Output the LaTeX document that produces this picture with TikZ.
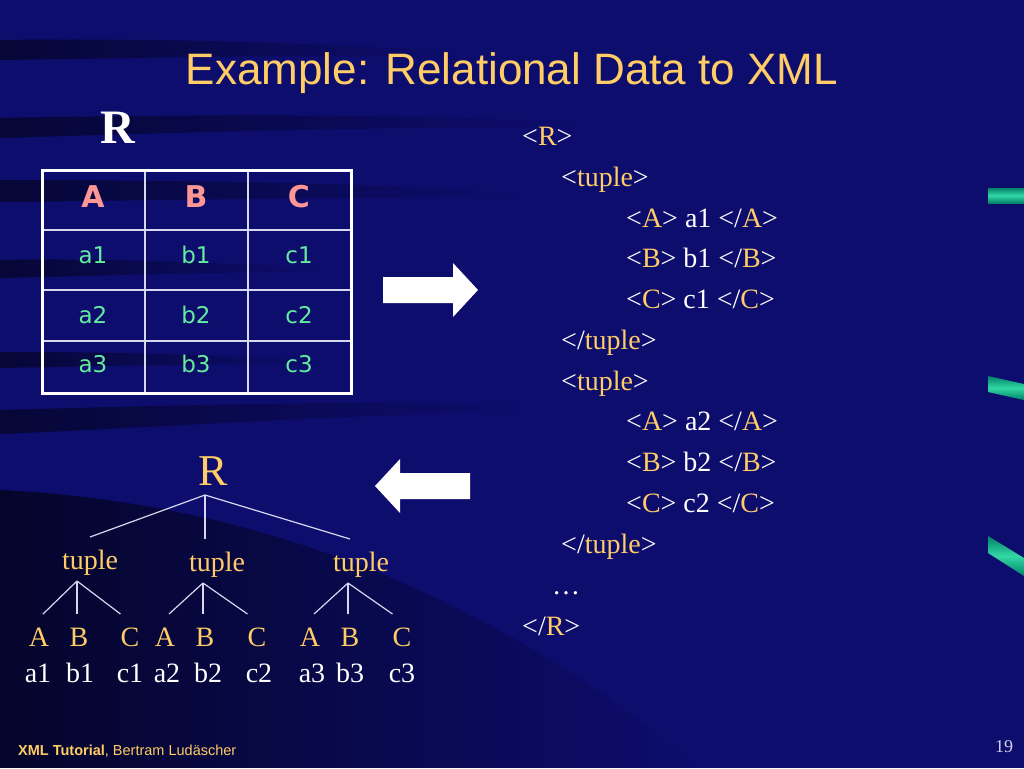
\documentclass[tikz,border=0pt]{standalone}
\usepackage{fontspec}
\setmainfont{Liberation Serif}
\newfontfamily\tahoma{DejaVu Sans}
\newfontfamily\arialfam{Liberation Sans}
\usepackage{xcolor}
\usepackage{tikz}
\usetikzlibrary{fadings}
\definecolor{slidebg}{RGB}{13,13,110}
\definecolor{gold}{RGB}{255,204,102}
\definecolor{pinkhdr}{RGB}{255,150,150}
\definecolor{mint}{RGB}{100,235,160}
\definecolor{rulecol}{RGB}{215,215,240}
\definecolor{tealdark}{RGB}{0,130,105}
\definecolor{teallight}{RGB}{50,215,165}
\definecolor{pagecol}{RGB}{210,210,235}
\newcommand{\otag}[1]{<\textcolor{gold}{#1}>}
\newcommand{\ctag}[1]{</\textcolor{gold}{#1}>}
\tikzset{streak/.style={fill=black, opacity=0.5, path fading=east}}
\tikzset{hdr/.style={font=\tahoma\bfseries\fontsize{30}{30}\selectfont, text=pinkhdr}}
\tikzset{cell/.style={font=\tahoma\fontsize{23}{23}\selectfont, text=mint}}
\tikzset{xml/.style={anchor=base west, inner sep=0pt, text=white, font=\fontsize{28}{28}\selectfont}}
\tikzset{tnode/.style={anchor=base, inner sep=0pt, text height=19pt, text depth=6pt, outer ysep=13pt, text=gold, font=\fontsize{28}{28}\selectfont}}
\tikzset{root/.style={tnode, outer ysep=4pt, font=\fontsize{44}{44}\selectfont}}
\tikzset{val/.style={anchor=base, inner sep=0pt, text=white, font=\fontsize{28}{28}\selectfont}}
\tikzset{branch/.style={draw=rulecol, line width=1.2pt}}

\begin{document}
\begin{tikzpicture}[x=1pt,y=-1pt]
\fill[slidebg] (0,0) rectangle (1024,768);
\useasboundingbox (0,0) rectangle (1024,768);
% dark ribbons of the slide
\fill[streak] (0,40) .. controls (150,38) and (300,42) .. (460,52) -- (460,58) .. controls (300,54) and (150,58) .. (0,60) -- cycle;
\fill[streak] (0,118) .. controls (200,114) and (400,114) .. (580,122) -- (580,128) .. controls (400,126) and (200,132) .. (0,138) -- cycle;
\fill[streak] (0,180) .. controls (200,180) and (380,184) .. (520,192) -- (520,198) .. controls (380,196) and (200,200) .. (0,202) -- cycle;
\fill[streak] (0,260) .. controls (100,258) and (200,262) .. (320,268) -- (320,272) .. controls (200,272) and (100,276) .. (0,278) -- cycle;
\fill[streak] (0,352) .. controls (100,352) and (200,354) .. (320,360) -- (320,364) .. controls (200,364) and (100,366) .. (0,368) -- cycle;
\fill[streak] (0,410) .. controls (150,406) and (350,400) .. (520,404) -- (520,412) .. controls (350,414) and (150,428) .. (0,434) -- cycle;
\fill[streak, opacity=0.6] (0,490) .. controls (200,500) and (450,560) .. (700,768) -- (0,768) -- cycle;
%\draw[-,color=white,dashed] (0,0) grid[step=100] (1024,768);
\shade[top color=tealdark, bottom color=tealdark, middle color=teallight] (988,188) rectangle (1024,203);
\shade[top color=tealdark, bottom color=tealdark, middle color=teallight] (988,376) -- (1024,384) -- (1024,400) -- (988,392) -- cycle;
\shade[top color=tealdark, bottom color=tealdark, middle color=teallight] (988,536) -- (1024,558) -- (1024,576) -- (988,553) -- cycle;
% title
\node[font=\arialfam\fontsize{44}{44}\selectfont, text=gold, anchor=base] (title) at (512,84) {Example: Relational Data to XML};
% relation R
\node[font=\bfseries\fontsize{48}{48}\selectfont, text=white, anchor=base] (relname) at (118,143) {R};
\draw[rulecol, line width=2pt] (145,170) -- (145,393) (248,170) -- (248,393);
\draw[rulecol, line width=2pt] (42,230) -- (351,230) (42,290) -- (351,290) (42,341) -- (351,341);
\draw[white, line width=3pt] (42,170) rectangle (351,393);
\node[hdr] (hA) at (93,197) {A};
\node[hdr] (hB) at (196,197) {B};
\node[hdr] (hC) at (299,197) {C};
\node[cell] (ra1) at (93,255) {a1};
\node[cell] (rb1) at (196,255) {b1};
\node[cell] (rc1) at (299,255) {c1};
\node[cell] (ra2) at (93,315) {a2};
\node[cell] (rb2) at (196,315) {b2};
\node[cell] (rc2) at (299,315) {c2};
\node[cell] (ra3) at (93,364) {a3};
\node[cell] (rb3) at (196,364) {b3};
\node[cell] (rc3) at (299,364) {c3};
% block arrows
\fill[white] (383,277) -- (453,277) -- (453,263) -- (478,290) -- (453,317) -- (453,303) -- (383,303) -- cycle;
\fill[white] (470,473) -- (400,473) -- (400,459) -- (375,486) -- (400,513) -- (400,499) -- (470,499) -- cycle;
% XML document
\node[xml] (x1) at (522,145) {\otag{R}};
\node[xml] (x2) at (561,186) {\otag{tuple}};
\node[xml] (x3) at (626,227) {\otag{A} a1 \ctag{A}};
\node[xml] (x4) at (626,267) {\otag{B} b1 \ctag{B}};
\node[xml] (x5) at (626,308) {\otag{C} c1 \ctag{C}};
\node[xml] (x6) at (561,349) {\ctag{tuple}};
\node[xml] (x7) at (561,390) {\otag{tuple}};
\node[xml] (x8) at (626,430) {\otag{A} a2 \ctag{A}};
\node[xml] (x9) at (626,471) {\otag{B} b2 \ctag{B}};
\node[xml] (x10) at (626,512) {\otag{C} c2 \ctag{C}};
\node[xml] (x11) at (561,553) {\ctag{tuple}};
\node[xml] (x12) at (552,594) {…};
\node[xml] (x13) at (522,635) {\ctag{R}};
% tree
\node[root] (R) at (213,485) {R};
\node[tnode] (t1) at (90,569) {tuple};
\node[tnode] (t2) at (217,571) {tuple};
\node[tnode] (t3) at (361,571) {tuple};
\coordinate (rj) at ([xshift=-8pt]R.south);
\coordinate (j1) at ([xshift=-13pt,yshift=7pt]t1.south);
\coordinate (j2) at ([xshift=-14pt,yshift=7pt]t2.south);
\coordinate (j3) at ([xshift=-13pt,yshift=7pt]t3.south);
\node[tnode] (A1) at (39,646) {A};
\node[tnode] (B1) at (79,646) {B};
\node[tnode] (C1) at (130,646) {C};
\node[tnode] (A2) at (165,646) {A};
\node[tnode] (B2) at (205,646) {B};
\node[tnode] (C2) at (257,646) {C};
\node[tnode] (A3) at (310,646) {A};
\node[tnode] (B3) at (350,646) {B};
\node[tnode] (C3) at (402,646) {C};
\node[val] (a1) at (38,682) {a1};
\node[val] (b1) at (80,682) {b1};
\node[val] (c1) at (130,682) {c1};
\node[val] (a2) at (167,682) {a2};
\node[val] (b2) at (208,682) {b2};
\node[val] (c2) at (259,682) {c2};
\node[val] (a3) at (312,682) {a3};
\node[val] (b3) at (350,682) {b3};
\node[val] (c3) at (402,682) {c3};
\draw[branch] (rj) -- (t1.north);
\draw[branch] (rj) -- (rj |- t2.north);
\draw[branch] (rj) -- ([xshift=-11pt]t3.north);
\draw[branch] (j1) -- ([xshift=4pt]A1.north);
\draw[branch] (j1) -- (j1 |- B1.north);
\draw[branch] (j1) -- (C1.north west);
\draw[branch] (j2) -- ([xshift=4pt]A2.north);
\draw[branch] (j2) -- (j2 |- B2.north);
\draw[branch] (j2) -- (C2.north west);
\draw[branch] (j3) -- ([xshift=4pt]A3.north);
\draw[branch] (j3) -- (j3 |- B3.north);
\draw[branch] (j3) -- (C3.north west);
% footer
\node[anchor=base west, inner sep=0pt, text=gold, font=\arialfam\fontsize{14.5}{14.5}\selectfont] (foot) at (18,755) {\textbf{XML Tutorial}, Bertram Ludäscher};
\node[anchor=base, inner sep=0pt, text=pagecol, font=\fontsize{18}{18}\selectfont] (page) at (1004,752) {19};
\end{tikzpicture}
\end{document}
